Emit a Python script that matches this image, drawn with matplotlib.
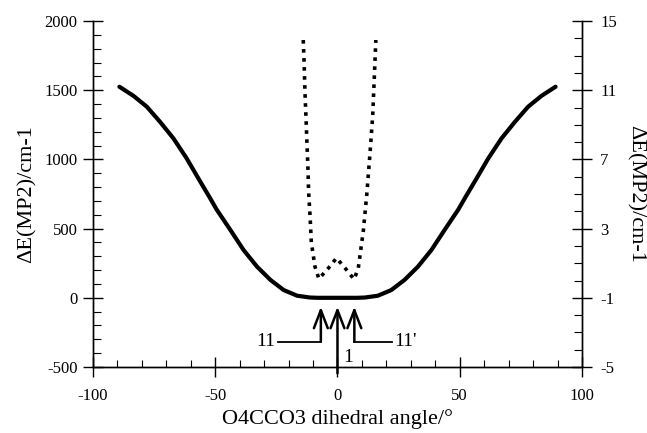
import numpy as np
import matplotlib.pyplot as plt

plt.rcParams['font.family'] = ['Liberation Serif', 'DejaVu Serif']
plt.rcParams['axes.unicode_minus'] = False

# MP2 energy vs dihedral angle (left axis)
angle_mp2 = [-89.2, -83.5, -78.0, -72.6, -67.1, -61.7, -56.9, -52.1, -49.5, -43.8, -38.4,
             -32.9, -27.4, -22.0, -16.5, -11.2, -8.0, -4.0, 0.0,
             4.0, 8.0, 11.2, 16.5, 22.0, 27.4, 32.9, 38.4, 43.8, 49.5, 52.1,
             56.9, 61.7, 67.1, 72.6, 78.0, 83.5, 89.2]
energy_mp2 = [1525, 1460, 1381, 1272, 1152, 1008, 863, 720, 640, 490, 345,
              225, 129, 56, 15, 2, 0, 0, 0,
              0, 0, 2, 15, 56, 129, 225, 345, 490, 640, 720,
              863, 1008, 1152, 1272, 1381, 1460, 1525]

# zoomed-in energy near the minimum (right axis)
angle_zoom = [-14.0, -13.6, -13.3, -12.9, -12.5, -12.1, -11.8, -11.2, -10.7, -9.2, -7.6,
              -3.8, -0.4, 3.5, 6.8, 8.5, 10.6, 12.0, 13.3, 14.4, 15.7]
energy_zoom = [13.9, 12.4, 10.9, 9.5, 8.0, 6.6, 5.1, 3.7, 2.2, 0.8, 0.1,
               0.7, 1.3, 0.65, 0.07, 0.7, 2.9, 5.0, 7.35, 9.5, 13.9]

# arrow annotations
arrow_x = [-6.8, 0.0, 6.9]
arrow_labels = ['11', '1', "11'"]

fig = plt.figure(figsize=(6.47, 4.33), dpi=100)
ax = fig.add_axes([0.1437, 0.1524, 0.7558, 0.7991])
ax2 = ax.twinx()

ax.plot(angle_mp2, energy_mp2, color='black', lw=3.0, solid_capstyle='round',
        solid_joinstyle='round')
ax2.plot(angle_zoom, energy_zoom, color='black', lw=2.6, linestyle=(0, (1, 1.5)))

ax.set_xlim(-100, 100)
ax.set_ylim(-500, 2000)
ax2.set_ylim(-5, 15)

ax.set_xticks([-100, -50, 0, 50, 100])
ax.set_xticks(np.arange(-100, 101, 10), minor=True)
ax.set_yticks([-500, 0, 500, 1000, 1500, 2000])
ax.set_yticks(np.arange(-500, 2001, 100), minor=True)
ax2.set_yticks([-5, -1, 3, 7, 11, 15])
ax2.set_yticks(np.arange(-5, 16, 1), minor=True)

for a in (ax, ax2):
    a.spines['top'].set_visible(False)
    for s in a.spines.values():
        s.set_linewidth(1.0)

ax.tick_params(axis='y', which='major', direction='inout', length=14, width=1.0, labelsize=12, pad=4)
ax.tick_params(axis='y', which='minor', direction='in', length=6, width=0.8)
ax.tick_params(axis='x', which='major', direction='inout', length=14, width=1.0, labelsize=12, pad=8)
ax.tick_params(axis='x', which='minor', direction='in', length=5, width=0.8)
ax2.tick_params(axis='y', which='major', direction='inout', length=14, width=1.0, labelsize=12, pad=6)
ax2.tick_params(axis='y', which='minor', direction='in', length=6, width=0.8)

ax.set_xlabel('O4CCO3 dihedral angle/°', fontsize=16, labelpad=4)
ax.set_ylabel('ΔE(MP2)/cm-1', fontsize=16, labelpad=6)
ax2.set_ylabel('ΔE(MP2)/cm-1', fontsize=16, rotation=270, labelpad=20)

# arrows pointing at the minima
tip_y = -64
turn_y = -317
for xv, lab in zip(arrow_x, arrow_labels):
    if xv < 0:
        ax.plot([-24.2, xv], [turn_y, turn_y], color='black', lw=1.3)
        ax.text(-25.5, turn_y, lab, ha='right', va='center', fontsize=14)
        start_y = turn_y
    elif xv > 0:
        ax.plot([xv, 22.1], [turn_y, turn_y], color='black', lw=1.3)
        ax.text(23.3, turn_y, lab, ha='left', va='center', fontsize=14)
        start_y = turn_y
    else:
        start_y = -545
        ax.text(2.3, -430, lab, ha='left', va='center', fontsize=14)
    ax.annotate('', xy=(xv, tip_y), xytext=(xv, start_y), annotation_clip=False,
                arrowprops=dict(arrowstyle='->,head_width=0.5,head_length=1.3',
                                color='black', lw=1.8, shrinkA=0, shrinkB=0))

fig.savefig('out.png', dpi=100)
